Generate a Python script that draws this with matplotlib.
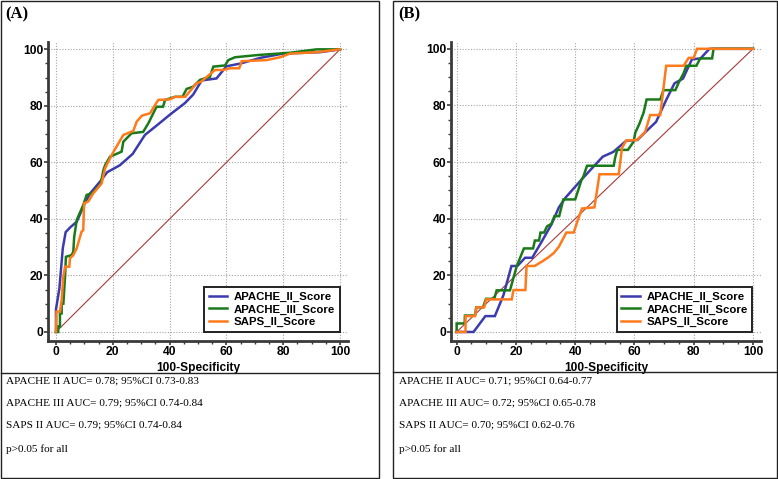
import matplotlib
matplotlib.use("Agg")
import matplotlib.pyplot as plt
from matplotlib.patches import Rectangle
from matplotlib.lines import Line2D
from matplotlib.ticker import MultipleLocator

W, H = 778, 479

# ---------------- data ----------------
series_names = ["APACHE_II_Score", "APACHE_III_Score", "SAPS_II_Score"]
colors = ["#3B3BAE", "#1A7A1A", "#FF7A1A"]

a_apache2_x = [0, 0, 1.2, 2.4, 3.4, 5, 7.3, 10.2, 12, 16, 18, 22.5, 27, 31.3, 36, 40, 45.4, 48.3, 51.3, 55, 56.5, 60, 65, 72, 80, 93, 100]
a_apache2_y = [0, 8, 15.4, 29.6, 35.3, 37, 39, 45.6, 49, 53.8, 56.5, 59, 63, 69.7, 73.5, 76.8, 81, 84, 89, 89.5, 89.7, 94, 95, 97, 98.5, 99, 100]

a_apache3_x = [0, 0.8, 0.8, 1.4, 1.4, 2, 2, 2.6, 3.2, 3.5, 5.5, 6.1, 6.4, 7.3, 9.6, 10.8, 12.6, 13.6, 15.5, 16, 16.7, 17.3, 19, 23.1, 23.7, 26.6, 30.7, 32.5, 35.4, 37.7, 38.4, 41.9, 44.5, 46, 48.3, 50.7, 54.2, 55.4, 59.5, 60.7, 63, 71.2, 82.4, 91.8, 100]
a_apache3_y = [0, 0, 2, 2, 6.6, 6.6, 10, 10, 19.6, 26.6, 27.2, 28.4, 33.5, 39.6, 44.9, 48.5, 49, 50, 52, 53.8, 57.3, 59, 62, 63.8, 67.3, 70.3, 70.8, 73.8, 79.7, 79.7, 82.1, 83.2, 83.2, 86, 86.8, 89.2, 90.3, 93.9, 94.3, 96.2, 97.2, 98, 98.8, 100, 100]

a_saps2_x = [0, 0.2, 1.4, 2, 2.6, 3.2, 4.7, 4.9, 6.1, 7.3, 9, 9.6, 9.9, 11.4, 13.1, 16.1, 16.7, 17.3, 19.6, 23.7, 27.2, 28.4, 30.2, 33.1, 36, 40.1, 41.9, 45.5, 49.5, 51, 56, 58.9, 61.3, 64.5, 65.4, 74.2, 78.9, 82.4, 91.8, 100]
a_saps2_y = [0, 7.2, 7.2, 11.3, 19.6, 23.1, 23.1, 26, 27.2, 29.6, 35.5, 36, 45.5, 46.2, 49, 52.6, 55.4, 57.9, 62.6, 69.7, 71.1, 74.4, 76.5, 77.4, 82.1, 82.3, 83.2, 83.2, 88, 88.5, 92.7, 92.7, 93.3, 93.3, 95.8, 96.2, 97.2, 98.5, 99, 100]

b_apache2_x = [0, 5.7, 9.7, 12.9, 15.8, 18.5, 20.5, 23.1, 25.5, 28.7, 32, 34.5, 36.8, 42.3, 49.3, 52.9, 57.2, 61, 63.8, 67.3, 70.7, 73.5, 76.4, 79.4, 82.3, 85.3, 100]
b_apache2_y = [0, 0, 5.6, 5.6, 13, 23.3, 23.3, 26.2, 26.2, 31.9, 38, 44, 47.5, 54, 61.9, 63.6, 67.5, 67.8, 70.7, 74.2, 81.9, 87.8, 89.5, 96.3, 96.6, 100, 100]

b_apache3_x = [0, 0, 2.7, 2.8, 6.2, 6.6, 8.9, 9.9, 12.7, 13.5, 18, 20.3, 22.7, 25.8, 26.4, 27.8, 28.3, 29.5, 30.5, 32, 33, 34.6, 36, 40, 41, 42.1, 42.8, 44, 53, 53.5, 54.2, 57.8, 59.7, 60.3, 61.7, 63.1, 64.1, 68.7, 69.8, 73.8, 74.9, 76.6, 77.5, 80.9, 82.2, 86.2, 86.7, 100]
b_apache3_y = [0, 3, 3, 5.8, 5.8, 8.7, 8.7, 11.7, 11.7, 14.7, 14.7, 23.3, 29.5, 29.5, 32.3, 32.3, 35.1, 35.1, 37.3, 38.2, 40.9, 40.9, 46.8, 46.8, 50, 53.6, 55, 58.7, 58.7, 61.6, 64.3, 64.3, 67.2, 70.4, 73.6, 77.5, 82.1, 82.1, 85.4, 85.4, 88, 91.4, 94, 94, 96.6, 96.6, 100, 100]

b_saps2_x = [0, 3, 3, 6.2, 6.7, 9.3, 10, 18.6, 19.2, 23.2, 23.6, 26.3, 29, 31, 32.8, 34.5, 37, 39.5, 40.6, 42.3, 46.5, 48.2, 54.7, 55.8, 57.2, 60.8, 63.6, 65.3, 68.7, 70.7, 76.6, 78.3, 80, 81.1, 100]
b_saps2_y = [0, 0, 5.6, 5.6, 8.7, 8.7, 11.5, 11.5, 14.8, 14.8, 23.3, 23.3, 25, 26.4, 27.9, 30.1, 35.1, 35.1, 38.6, 43.6, 44, 55.7, 55.7, 65, 67.6, 67.8, 70.6, 76.6, 76.6, 94, 94, 96.8, 96.8, 100, 100]

diag = [0, 100]
ticks = [0, 20, 40, 60, 80, 100]
xlabel = "100-Specificity"

a_text = ["APACHE II AUC= 0.78; 95%CI 0.73-0.83",
          "APACHE III AUC= 0.79; 95%CI 0.74-0.84",
          "SAPS II AUC= 0.79; 95%CI 0.74-0.84",
          "p>0.05 for all"]
b_text = ["APACHE II AUC= 0.71; 95%CI 0.64-0.77",
          "APACHE III AUC= 0.72; 95%CI 0.65-0.78",
          "SAPS II AUC= 0.70; 95%CI 0.62-0.76",
          "p>0.05 for all"]

# ---------------- figure ----------------
fig = plt.figure(figsize=(W / 100, H / 100), dpi=100)
fig.patch.set_facecolor("white")


def fx(px):
    return px / W


def fy(py):
    return 1 - py / H


def box(x0, y0, x1, y1, lw=1.0):
    fig.patches.append(Rectangle((fx(x0), fy(y1)), fx(x1) - fx(x0), fy(y0) - fy(y1),
                                 transform=fig.transFigure, fill=False,
                                 edgecolor="#222222", linewidth=lw, zorder=0))


def hline(x0, x1, py, lw=1.0):
    fig.add_artist(Line2D([fx(x0), fx(x1)], [fy(py), fy(py)], transform=fig.transFigure,
                          color="#222222", linewidth=lw))


# panel frames
box(0.7, 0.7, 379, 478.3)
hline(0.7, 379, 373.3)
box(393, 0.7, 777.3, 478.3)
hline(393, 777.3, 372)

sans = "Liberation Sans"
serif = "Liberation Serif"


def make_axes(left_px, right_px, xlim, ylim, curves, letter, letter_x, text_lines, text_x):
    ax = fig.add_axes([fx(left_px), fy(341.3), fx(right_px) - fx(left_px), fy(42) - fy(341.3)])
    ax.set_xlim(*xlim)
    ax.set_ylim(*ylim)
    for s in ["top", "right"]:
        ax.spines[s].set_visible(False)
    for s in ["left", "bottom"]:
        ax.spines[s].set_linewidth(2.0)
        ax.spines[s].set_color("#3a3a3a")
    ax.set_xticks(ticks)
    ax.set_yticks(ticks)
    ax.xaxis.set_minor_locator(MultipleLocator(5))
    ax.yaxis.set_minor_locator(MultipleLocator(5))
    ax.tick_params(which="major", direction="out", length=3, width=1.2, color="#3a3a3a", pad=0.6)
    ax.tick_params(which="minor", direction="out", length=2, width=1.0, color="#3a3a3a")
    for lab in ax.get_xticklabels() + ax.get_yticklabels():
        lab.set_fontfamily(sans)
        lab.set_fontweight("bold")
        lab.set_fontsize(8.7)
    ax.grid(True, which="major", linestyle=(0, (1, 1.5)), color="#a5a5a5", linewidth=0.8)
    ax.set_axisbelow(True)
    ax.plot(diag, diag, color="#A83A3A", linewidth=0.8, zorder=2)
    for (xs, ys), c, n in zip(curves, colors, series_names):
        ax.plot(xs, ys, color=c, linewidth=1.8, label=n, zorder=3, solid_joinstyle="miter")
    ax.set_xlabel(xlabel, fontfamily=sans, fontweight="bold", fontsize=8.6, labelpad=3)
    leg = ax.legend(loc="lower right", bbox_to_anchor=(0.973, 0.032), frameon=True,
                    fancybox=False, edgecolor="#222222", framealpha=1,
                    prop={"family": sans, "weight": "bold", "size": 8.2},
                    handlelength=1.6, handletextpad=0.6, labelspacing=0.22,
                    borderpad=0.4, borderaxespad=0)
    leg.get_frame().set_linewidth(1.4)
    fig.text(fx(letter_x), fy(14.5), letter, fontfamily=serif, fontweight="bold",
             fontsize=12, va="center", ha="left")
    for txt, py in zip(text_lines, [381, 403, 425, 449]):
        fig.text(fx(text_x), fy(py), txt, fontfamily=serif, fontsize=8.1, va="center", ha="left")
    return ax


make_axes(48.3, 348, (-2.7, 102.8), (-3.3, 102.6),
          [(a_apache2_x, a_apache2_y), (a_apache3_x, a_apache3_y), (a_saps2_x, a_saps2_y)],
          "(A)", 5.5, a_text, 6)
make_axes(451.3, 760.7, (-1.8, 102.6), (-3.3, 102.4),
          [(b_apache2_x, b_apache2_y), (b_apache3_x, b_apache3_y), (b_saps2_x, b_saps2_y)],
          "(B)", 398.5, b_text, 399)

fig.savefig("out.png", dpi=100, facecolor="white")
